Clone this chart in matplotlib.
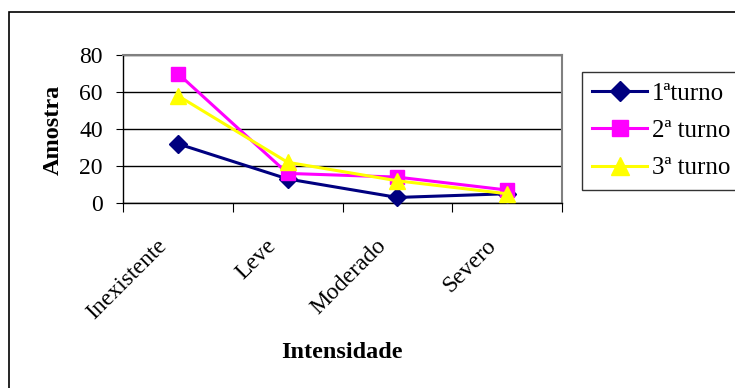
import matplotlib.pyplot as plt
import matplotlib.transforms as mtransforms
from matplotlib.patches import Rectangle

# dados
categorias = ["Inexistente", "Leve", "Moderado", "Severo"]
turno1 = [32, 13, 3, 5]
turno2 = [70, 16, 14, 7]
turno3 = [58, 22, 12, 5]
series_nomes = ["1ªturno", "2ª turno", "3ª turno"]

plt.rcParams["font.family"] = ["Liberation Serif", "DejaVu Serif"]

fig = plt.figure(figsize=(7.35, 3.88), dpi=100)
W, H = 735, 388

# moldura externa
fig.patches.append(Rectangle((9 / W, -0.05), 1.0, 1 - 12 / H + 0.05,
                             transform=fig.transFigure, fill=False,
                             edgecolor="black", linewidth=1.2))

ax = fig.add_axes([123 / W, 1 - 203 / H, (562 - 123) / W, (203 - 55) / H])

x = list(range(len(categorias)))
ax.plot(x, turno1, color="#000080", marker="D", markersize=9, linewidth=2.2,
        label=series_nomes[0], clip_on=False, zorder=3)
ax.plot(x, turno2, color="#FF00FF", marker="s", markersize=10, linewidth=2.2,
        label=series_nomes[1], clip_on=False, zorder=3)
ax.plot(x, turno3, color="#FFFF00", marker="^", markersize=11, linewidth=2.2,
        label=series_nomes[2], clip_on=False, zorder=4)

ax.set_xlim(-0.5, len(categorias) - 0.5)
ax.set_ylim(0, 80)
ax.set_yticks([0, 20, 40, 60, 80])
ax.yaxis.grid(True, color="black", linewidth=1)
ax.set_axisbelow(True)

# ticks nas fronteiras das categorias, rótulos no centro
ax.set_xticks([i - 0.5 for i in range(len(categorias) + 1)])
ax.set_xticklabels([])
ax.set_xticks(x, minor=True)
ax.set_xticklabels(categorias, minor=True, rotation=45, ha="right",
                   fontsize=17)
ax.tick_params(axis="x", which="major", length=6.5, direction="out")
ax.tick_params(axis="x", which="minor", length=0, pad=23)
ax.tick_params(axis="y", length=5, labelsize=17, pad=9.5)

# desloca os rótulos rotacionados um pouco para a esquerda
desloc = mtransforms.ScaledTranslation(-7 / 100, 0, fig.dpi_scale_trans)
for lbl in ax.get_xticklabels(minor=True):
    lbl.set_transform(lbl.get_transform() + desloc)

for s in ["top", "right"]:
    ax.spines[s].set_color("#808080")
    ax.spines[s].set_linewidth(1.5)
for s in ["left", "bottom"]:
    ax.spines[s].set_color("black")
    ax.spines[s].set_linewidth(1)

fig.text(53 / W, 1 - 130 / H, "Amostra", rotation=90, ha="center",
         va="center", fontsize=17.5, fontweight="bold")
fig.text(342 / W, 1 - 352 / H, "Intensidade", ha="center", va="center",
         fontsize=17.5, fontweight="bold")

leg = fig.legend(loc="upper left", bbox_to_anchor=(582 / W, 1 - 72 / H),
                 fontsize=18, frameon=True, fancybox=False, borderaxespad=0,
                 handlelength=2.2, labelspacing=0.6, borderpad=0.4,
                 handletextpad=0.2, markerscale=1.15)
leg.get_frame().set_edgecolor("black")
leg.get_frame().set_linewidth(1)

plt.savefig("out.png", dpi=100)
